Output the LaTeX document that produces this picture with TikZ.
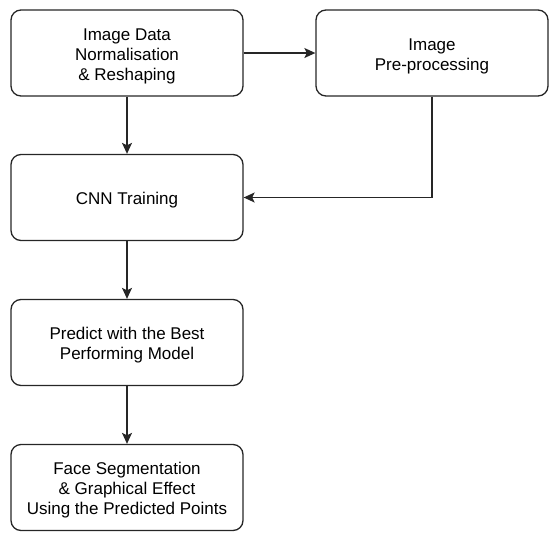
\documentclass[tikz,border=0pt]{standalone}
\usepackage{fontspec}
\setmainfont{Liberation Sans}
\usetikzlibrary{arrows.meta,positioning}
\newcommand{\dn}[1]{\raisebox{-3pt}[\height][\depth]{#1}}
\begin{document}
\begin{tikzpicture}[x=1pt,y=-1pt,
  box/.style={draw=black!85,line width=1.3pt,rounded corners=10pt,minimum width=232pt,minimum height=86pt,inner sep=0pt,align=center,font=\fontsize{17}{20}\selectfont},
  conn/.style={draw=black!85,line width=1.3pt,-{Stealth[length=11pt,width=10pt,inset=2.5pt]}}]
\useasboundingbox (0,0) rectangle (559,544);
\node[box] (n1) at (127,53) {\dn{\begin{tabular}{@{}c@{}}Image Data\\Normalisation\\\& Reshaping\end{tabular}}};
\node[box] (n2) at (432,53) {\dn{\begin{tabular}{@{}c@{}}Image\\Pre-processing\end{tabular}}};
\node[box] (n3) at (127,197.5) {\dn{CNN Training}};
\node[box] (n4) at (127,342.5) {\dn{\begin{tabular}{@{}c@{}}Predict with the Best\\Performing Model\end{tabular}}};
\node[box] (n5) at (127,487.5) {\dn{\begin{tabular}{@{}c@{}}Face Segmentation\\\& Graphical Effect\\Using the Predicted Points\end{tabular}}};
\draw[conn] (n1) -- (n2);
\draw[conn] (n1) -- (n3);
\draw[conn] (n2.south) |- (n3.east);
\draw[conn] (n3) -- (n4);
\draw[conn] (n4) -- (n5);
\end{tikzpicture}
\end{document}
